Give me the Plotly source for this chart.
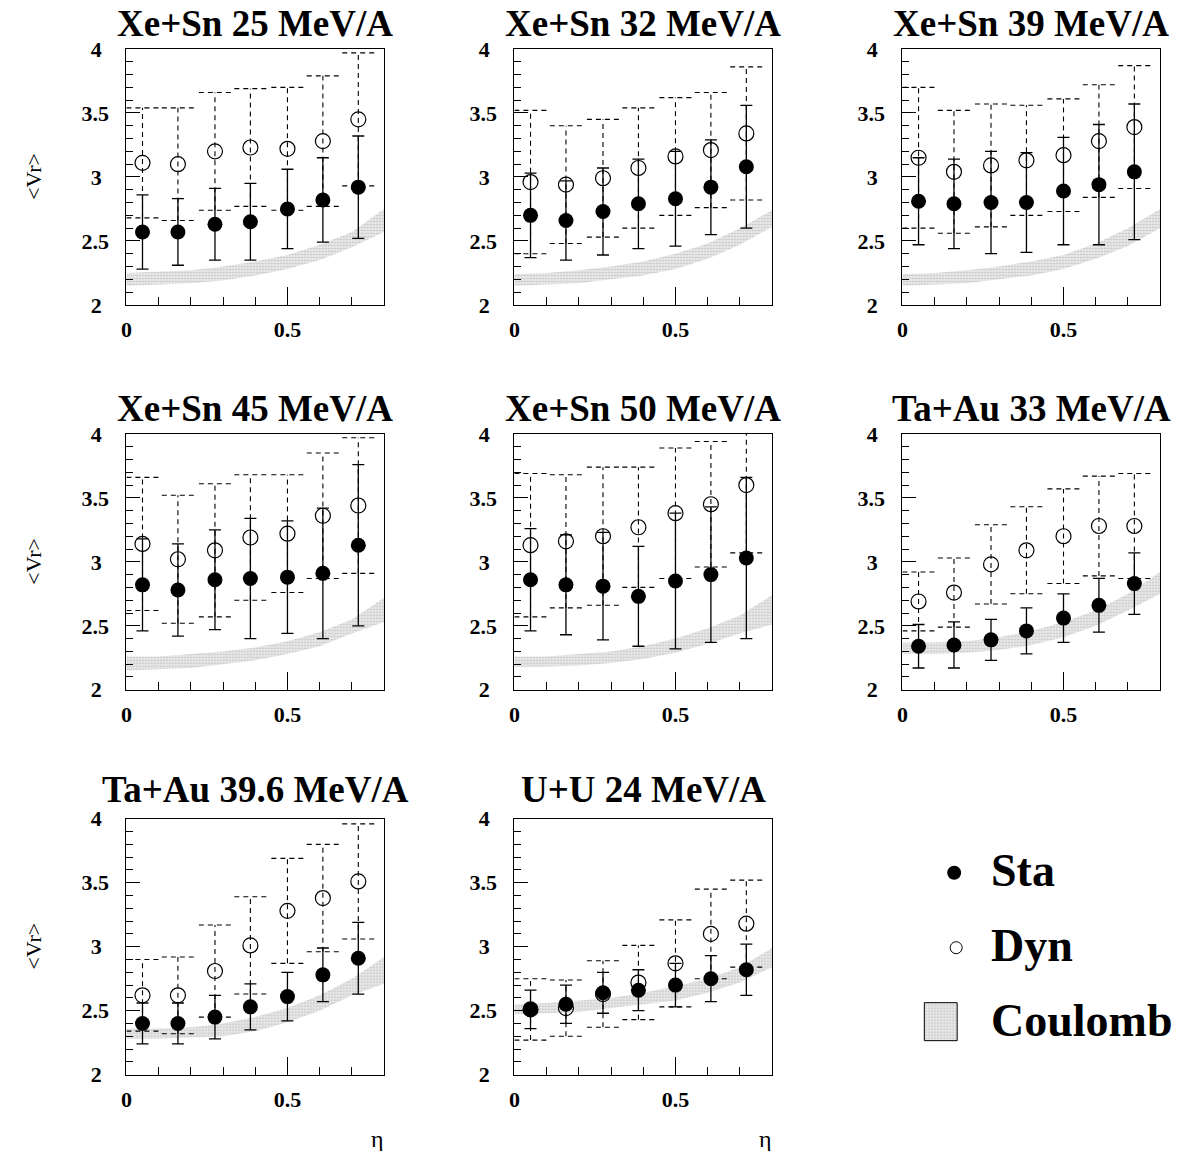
import plotly.graph_objects as go

# ---------------- data ----------------
eta_bins = [0.05, 0.16, 0.275, 0.385, 0.5, 0.61, 0.72]
band_eta = [0.0, 0.1, 0.2, 0.3, 0.4, 0.5, 0.6, 0.7, 0.8]

titles = ["Xe+Sn 25 MeV/A", "Xe+Sn 32 MeV/A", "Xe+Sn 39 MeV/A",
          "Xe+Sn 45 MeV/A", "Xe+Sn 50 MeV/A", "Ta+Au 33 MeV/A",
          "Ta+Au 39.6 MeV/A", "U+U 24 MeV/A"]

y_tick_vals = [2, 2.5, 3, 3.5, 4]
y_tick_text = ["2&#8196;", "2.5", "3&#8196;", "3.5", "4&#8196;"]
x_tick_vals = [0, 0.5]
x_tick_text = ["0", "0.5"]

sta_1 = [2.57, 2.57, 2.63, 2.65, 2.75, 2.82, 2.92]
sta_err_1 = [0.29, 0.26, 0.28, 0.30, 0.31, 0.33, 0.40]
dyn_1 = [3.11, 3.10, 3.20, 3.23, 3.22, 3.28, 3.45]
dyn_err_1 = [0.43, 0.44, 0.46, 0.46, 0.48, 0.51, 0.52]
coul_lo_1 = [2.15, 2.16, 2.17, 2.19, 2.23, 2.28, 2.35, 2.45, 2.57]
coul_hi_1 = [2.25, 2.26, 2.27, 2.30, 2.34, 2.39, 2.47, 2.57, 2.75]

sta_2 = [2.70, 2.66, 2.73, 2.79, 2.83, 2.92, 3.08]
sta_err_2 = [0.33, 0.31, 0.34, 0.35, 0.37, 0.37, 0.48]
dyn_2 = [2.96, 2.94, 2.99, 3.07, 3.16, 3.21, 3.34]
dyn_err_2 = [0.56, 0.46, 0.46, 0.47, 0.46, 0.45, 0.52]
coul_lo_2 = [2.15, 2.16, 2.17, 2.20, 2.23, 2.28, 2.36, 2.47, 2.61]
coul_hi_2 = [2.24, 2.25, 2.27, 2.30, 2.34, 2.40, 2.48, 2.60, 2.74]

sta_3 = [2.81, 2.79, 2.80, 2.80, 2.89, 2.94, 3.04]
sta_err_3 = [0.34, 0.35, 0.40, 0.39, 0.42, 0.47, 0.53]
dyn_3 = [3.15, 3.04, 3.09, 3.13, 3.17, 3.28, 3.39]
dyn_err_3 = [0.55, 0.48, 0.48, 0.43, 0.44, 0.44, 0.48]
coul_lo_3 = [2.15, 2.16, 2.17, 2.20, 2.23, 2.28, 2.36, 2.46, 2.60]
coul_hi_3 = [2.24, 2.25, 2.27, 2.30, 2.34, 2.39, 2.48, 2.60, 2.75]

sta_4 = [2.82, 2.78, 2.86, 2.87, 2.88, 2.91, 3.13]
sta_err_4 = [0.36, 0.36, 0.39, 0.47, 0.44, 0.51, 0.63]
dyn_4 = [3.14, 3.02, 3.09, 3.19, 3.22, 3.36, 3.44]
dyn_err_4 = [0.52, 0.50, 0.52, 0.49, 0.46, 0.49, 0.53]
coul_lo_4 = [2.15, 2.16, 2.17, 2.20, 2.23, 2.28, 2.34, 2.44, 2.53]
coul_hi_4 = [2.26, 2.26, 2.28, 2.30, 2.33, 2.38, 2.45, 2.55, 2.72]

sta_5 = [2.86, 2.82, 2.81, 2.73, 2.85, 2.90, 3.03]
sta_err_5 = [0.40, 0.39, 0.42, 0.39, 0.53, 0.53, 0.63]
dyn_5 = [3.13, 3.16, 3.20, 3.27, 3.38, 3.45, 3.60]
dyn_err_5 = [0.56, 0.52, 0.54, 0.47, 0.51, 0.49, 0.53]
coul_lo_5 = [2.18, 2.18, 2.19, 2.21, 2.24, 2.29, 2.36, 2.44, 2.51]
coul_hi_5 = [2.26, 2.26, 2.28, 2.30, 2.34, 2.40, 2.48, 2.58, 2.74]

sta_6 = [2.34, 2.35, 2.39, 2.46, 2.56, 2.66, 2.83]
sta_err_6 = [0.17, 0.18, 0.16, 0.18, 0.19, 0.21, 0.24]
dyn_6 = [2.69, 2.76, 2.98, 3.09, 3.20, 3.28, 3.28]
dyn_err_6 = [0.23, 0.27, 0.31, 0.34, 0.37, 0.39, 0.41]
coul_lo_6 = [2.28, 2.28, 2.29, 2.31, 2.35, 2.41, 2.50, 2.62, 2.75]
coul_hi_6 = [2.37, 2.37, 2.38, 2.41, 2.46, 2.53, 2.62, 2.75, 2.92]

sta_7 = [2.40, 2.40, 2.45, 2.53, 2.61, 2.78, 2.91]
sta_err_7 = [0.16, 0.16, 0.17, 0.18, 0.19, 0.21, 0.28]
dyn_7 = [2.62, 2.62, 2.81, 3.01, 3.28, 3.38, 3.51]
dyn_err_7 = [0.28, 0.30, 0.36, 0.38, 0.41, 0.42, 0.45]
coul_lo_7 = [2.28, 2.28, 2.29, 2.30, 2.34, 2.41, 2.50, 2.62, 2.71]
coul_hi_7 = [2.36, 2.36, 2.37, 2.40, 2.45, 2.52, 2.62, 2.75, 2.92]

sta_8 = [2.51, 2.55, 2.64, 2.66, 2.70, 2.75, 2.82]
sta_err_8 = [0.15, 0.15, 0.16, 0.16, 0.17, 0.18, 0.20]
dyn_8 = [2.51, 2.52, 2.63, 2.72, 2.87, 3.10, 3.18]
dyn_err_8 = [0.24, 0.22, 0.26, 0.29, 0.34, 0.35, 0.34]
coul_lo_8 = [2.47, 2.48, 2.49, 2.52, 2.55, 2.58, 2.64, 2.72, 2.84]
coul_hi_8 = [2.55, 2.56, 2.58, 2.60, 2.64, 2.69, 2.75, 2.84, 2.99]

panels = [
    (sta_1, sta_err_1, dyn_1, dyn_err_1, coul_lo_1, coul_hi_1),
    (sta_2, sta_err_2, dyn_2, dyn_err_2, coul_lo_2, coul_hi_2),
    (sta_3, sta_err_3, dyn_3, dyn_err_3, coul_lo_3, coul_hi_3),
    (sta_4, sta_err_4, dyn_4, dyn_err_4, coul_lo_4, coul_hi_4),
    (sta_5, sta_err_5, dyn_5, dyn_err_5, coul_lo_5, coul_hi_5),
    (sta_6, sta_err_6, dyn_6, dyn_err_6, coul_lo_6, coul_hi_6),
    (sta_7, sta_err_7, dyn_7, dyn_err_7, coul_lo_7, coul_hi_7),
    (sta_8, sta_err_8, dyn_8, dyn_err_8, coul_lo_8, coul_hi_8),
]

# ---------------- layout geometry ----------------
W, H = 1185, 1151
# measured page -> screenshot mapping (vertical): shot = 11 + 0.9786 * fig
def fy(target_px):
    return 1 - ((target_px - 11.0) / 0.9786) / H

def fx(target_px):
    return (target_px - 2.0) / W

col_left = [123, 513, 903]
row_top = [48, 433, 818]
title_mid = [23, 408, 789]
PW, PH = 259, 256
BIN_HALF = 0.05

SERIF = "Liberation Serif, Times New Roman, serif"
fig = go.Figure()
layout = dict(width=W, height=H, margin=dict(l=0, r=0, t=0, b=0, pad=0),
              paper_bgcolor="white", plot_bgcolor="white", showlegend=False,
              font=dict(family=SERIF, color="black"))
annotations = []

band_pattern = dict(shape=".", size=3, solidity=0.35, fgcolor="#9a9a9a", bgcolor="#ebebeb")

for i, (sta, sta_err, dyn, dyn_err, clo, chi) in enumerate(panels):
    k = i + 1
    r, c = divmod(i, 3)
    x0 = fx(col_left[c])
    x1 = fx(col_left[c] + PW)
    y1 = fy(row_top[r])
    y0 = fy(row_top[r] + PH)
    xa = "x" if k == 1 else f"x{k}"
    ya = "y" if k == 1 else f"y{k}"

    # Coulomb band
    fig.add_trace(go.Scatter(x=band_eta, y=clo, mode="lines", line=dict(width=0, color="rgba(0,0,0,0)"),
                             xaxis=xa, yaxis=ya, hoverinfo="skip"))
    fig.add_trace(go.Scatter(x=band_eta, y=chi, mode="lines", line=dict(width=0, color="rgba(0,0,0,0)"),
                             fill="tonexty", fillcolor="#dcdcdc", fillpattern=band_pattern,
                             xaxis=xa, yaxis=ya, hoverinfo="skip"))

    # Dyn dashed error bars with bin-wide caps
    ex, ey = [], []
    for xv, yv, ev in zip(eta_bins, dyn, dyn_err):
        ex += [xv, xv, None]
        ey += [yv - ev, yv + ev, None]
        for yy in (yv - ev, yv + ev):
            ex += [xv - BIN_HALF, xv + BIN_HALF, None]
            ey += [yy, yy, None]
    fig.add_trace(go.Scatter(x=ex, y=ey, mode="lines",
                             line=dict(color="black", width=1.1, dash="5px,4px"),
                             xaxis=xa, yaxis=ya, hoverinfo="skip"))

    # Sta points with solid error bars
    fig.add_trace(go.Scatter(x=eta_bins, y=sta, mode="markers",
                             marker=dict(symbol="circle", size=15, color="black"),
                             error_y=dict(type="data", array=sta_err, visible=True,
                                          color="black", thickness=1.3, width=6),
                             xaxis=xa, yaxis=ya, name="Sta"))
    # Dyn open circles
    fig.add_trace(go.Scatter(x=eta_bins, y=dyn, mode="markers",
                             marker=dict(symbol="circle-open", size=15, color="black",
                                         line=dict(width=1.2, color="black")),
                             xaxis=xa, yaxis=ya, name="Dyn"))

    axis_common = dict(showline=True, linecolor="black", linewidth=1, mirror=True,
                       showgrid=False, zeroline=False, ticks="inside", tickcolor="black",
                       tickfont=dict(family=SERIF, size=22, color="black", weight="bold"))
    layout["xaxis" if k == 1 else f"xaxis{k}"] = dict(
        axis_common, domain=[x0, x1], anchor=ya, range=[0, 0.8],
        tickvals=x_tick_vals, ticktext=x_tick_text, ticklen=18, tickwidth=1,
        minor=dict(dtick=0.1, tick0=0, ticklen=8, ticks="inside", tickcolor="black"),
        ticklabelstandoff=5)
    layout["yaxis" if k == 1 else f"yaxis{k}"] = dict(
        axis_common, domain=[y0, y1], anchor=xa, range=[2, 4],
        tickvals=y_tick_vals, ticktext=y_tick_text,
        ticklen=14, tickwidth=1,
        minor=dict(dtick=0.1, tick0=2, ticklen=7, ticks="inside", tickcolor="black"),
        ticklabelstandoff=12)

    # panel title
    annotations.append(dict(text=f"<b>{titles[i]}</b>", xref="paper", yref="paper",
                            x=(x0 + x1) / 2, y=fy(title_mid[r]),
                            xanchor="center", yanchor="middle",
                            showarrow=False, font=dict(family=SERIF, size=37, color="black")))
    # y-axis title on first column
    if c == 0:
        annotations.append(dict(text="&lt;Vr&gt;", xref="paper", yref="paper",
                                x=fx(30), y=fy(row_top[r] + 127), textangle=-90,
                                xanchor="center", yanchor="middle", showarrow=False,
                                font=dict(family=SERIF, size=22, color="black")))
    # x-axis title on bottom row
    if r == 2:
        annotations.append(dict(text="η", xref="paper", yref="paper",
                                x=fx(col_left[c] + PW - 7), y=fy(1138),
                                xanchor="center", yanchor="middle", showarrow=False,
                                font=dict(family=SERIF, size=24, color="black")))

# ---------------- legend (own hidden axes) ----------------
layout["xaxis9"] = dict(domain=[fx(880), 1.0], range=[0, 307], visible=False, anchor="y9", fixedrange=True)
layout["yaxis9"] = dict(domain=[fy(1080), fy(820)], range=[260, 0], visible=False, anchor="x9", fixedrange=True)
fig.add_trace(go.Scatter(x=[75], y=[52], mode="markers", marker=dict(size=14, color="black"),
                         xaxis="x9", yaxis="y9", hoverinfo="skip"))
fig.add_trace(go.Scatter(x=[77], y=[127], mode="markers",
                         marker=dict(symbol="circle-open", size=12, color="black", line=dict(width=1, color="#555")),
                         xaxis="x9", yaxis="y9", hoverinfo="skip"))
fig.add_trace(go.Scatter(x=[45, 78, 78, 45, 45], y=[182, 182, 220, 220, 182], mode="lines", fill="toself",
                         fillcolor="#dcdcdc", fillpattern=band_pattern,
                         line=dict(color="black", width=1), xaxis="x9", yaxis="y9", hoverinfo="skip"))
for label, yy in (("Sta", 50), ("Dyn", 125), ("Coulomb", 200)):
    annotations.append(dict(text=f"<b>{label}</b>", xref="x9", yref="y9", x=110, y=yy,
                            xanchor="left", yanchor="middle", showarrow=False,
                            font=dict(family=SERIF, size=46, color="black")))

layout["annotations"] = annotations
fig.update_layout(**layout)
fig.write_html("out.html", config={"displayModeBar": False},
               post_script="document.body.style.margin='0';document.body.style.overflow='hidden';")
